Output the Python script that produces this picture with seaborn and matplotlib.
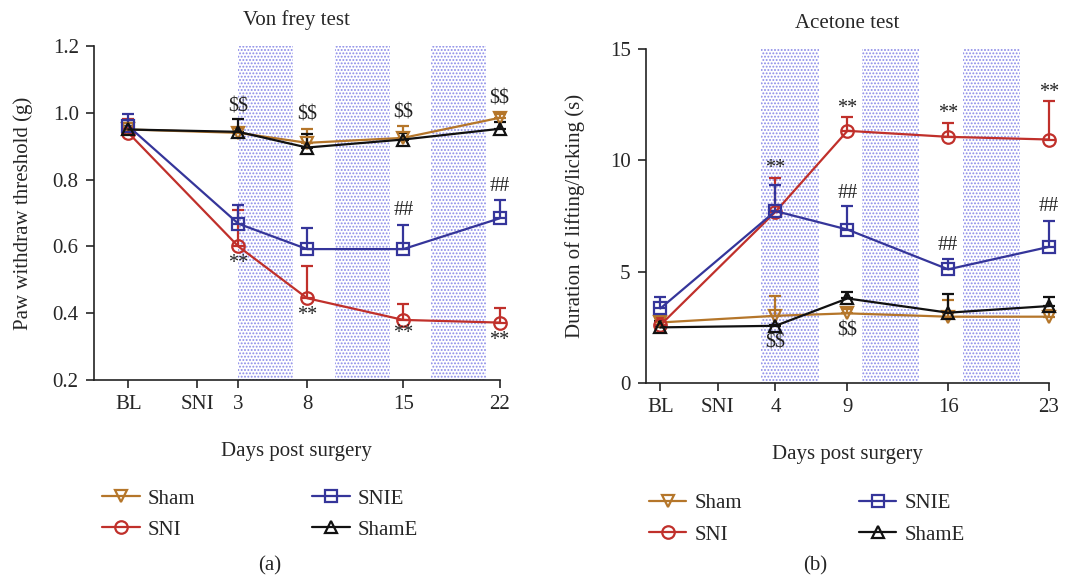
import matplotlib
matplotlib.use("Agg")
import matplotlib.pyplot as plt
import seaborn as sns
import pandas as pd

## DATA ..........................................................................

groups = ["Sham", "SNI", "SNIE", "ShamE"]

# Von frey test
vf_days = [-5, 3, 8, 15, 22]
vf_ticks = [-5, 0, 3, 8, 15, 22]
vf_ticklabels = ["BL", "SNI", "3", "8", "15", "22"]
vf_sham = [0.95, 0.94, 0.91, 0.925, 0.985]
vf_sham_err = [0.02, 0.015, 0.04, 0.035, 0.012]
vf_sni = [0.94, 0.60, 0.445, 0.38, 0.372]
vf_sni_err = [0.04, 0.11, 0.095, 0.048, 0.045]
vf_snie = [0.96, 0.668, 0.592, 0.592, 0.684]
vf_snie_err = [0.036, 0.056, 0.062, 0.072, 0.056]
vf_shame = [0.95, 0.943, 0.896, 0.92, 0.952]
vf_shame_err = [0.02, 0.037, 0.042, 0.02, 0.02]
vf_note_text = ["$$", "$$", "$$", "$$", "**", "**", "**", "**", "##", "##"]
vf_note_x = [3, 8, 15, 22, 3, 8, 15, 22, 15, 22]
vf_note_y = [1.018, 0.993, 0.998, 1.042, 0.549, 0.394, 0.339, 0.319, 0.708, 0.778]

# Acetone test
ac_days = [-4, 4, 9, 16, 23]
ac_ticks = [-4, 0, 4, 9, 16, 23]
ac_ticklabels = ["BL", "SNI", "4", "9", "16", "23"]
ac_sham = [2.71, 3.01, 3.12, 2.97, 2.97]
ac_sham_err = [0.35, 0.9, 0.2, 0.75, 0.3]
ac_sni = [2.59, 7.69, 11.33, 11.06, 10.94]
ac_sni_err = [0.3, 1.54, 0.63, 0.6, 1.74]
ac_snie = [3.34, 7.72, 6.89, 5.10, 6.11]
ac_snie_err = [0.53, 1.17, 1.07, 0.46, 1.17]
ac_shame = [2.49, 2.56, 3.79, 3.15, 3.45]
ac_shame_err = [0.3, 0.05, 0.27, 0.82, 0.42]
ac_note_text = ["**", "**", "**", "**", "##", "##", "##", "$$", "$$"]
ac_note_x = [4, 9, 16, 23, 9, 16, 23, 4, 9]
ac_note_y = [9.64, 12.33, 12.11, 13.05, 8.51, 6.19, 7.91, 1.77, 2.32]

# exercise periods (shaded)
shade_start = [3, 10, 17]
shade_end = [7, 14, 21]

## STYLE ..........................................................................

colors = {"Sham": "#b5762a", "SNI": "#c0302b", "SNIE": "#35359a", "ShamE": "#111111"}
markers = {"Sham": "v", "SNI": "o", "SNIE": "s", "ShamE": "^"}

sns.set_style("ticks")
plt.rcParams["font.family"] = ["Liberation Serif", "DejaVu Serif"]
plt.rcParams["hatch.linewidth"] = 0.9

fig = plt.figure(figsize=(10.73, 5.82), dpi=100)
ax1 = fig.add_axes([0.0876, 0.347, 0.378, 0.574])
ax2 = fig.add_axes([0.602, 0.3424, 0.3756, 0.573])


def draw_panel(ax, days, series, errs, ticks, ticklabels, notes, xlim, ylim, yticks, title, ylabel, ylpad):
    for s0, s1 in zip(shade_start, shade_end):
        ax.axvspan(s0, s1, facecolor="white", hatch=".....", edgecolor="#8a8ae8",
                   linewidth=0, zorder=0)
    for g in groups:
        c = colors[g]
        eb = ax.errorbar(days, series[g], yerr=[[0] * len(days), errs[g]], fmt="none",
                         ecolor=c, elinewidth=1.6, capsize=4.5, capthick=1.6, zorder=2)
        for art in eb.get_children():
            art.set_clip_on(False)
        df = pd.DataFrame({"day": days, "value": series[g]})
        sns.lineplot(data=df, x="day", y="value", ax=ax, color=c, marker=markers[g],
                     markersize=9, markerfacecolor="none", markeredgecolor=c,
                     markeredgewidth=1.6, linewidth=1.6, label=g, zorder=3, clip_on=False)
    for t, x, y in zip(*notes):
        ax.text(x, y, t, ha="center", va="center", fontsize=14.5, color="#222222",
                clip_on=False, parse_math=False)
    ax.set_xlim(*xlim)
    ax.set_ylim(*ylim)
    ax.set_xticks(ticks)
    ax.set_xticklabels(ticklabels)
    ax.set_yticks(yticks)
    ax.tick_params(labelsize=15, length=6, width=1.2, direction="out", pad=5)
    ax.set_title(title, fontsize=15, pad=15)
    ax.set_xlabel("Days post surgery", fontsize=15, labelpad=20)
    ax.set_ylabel(ylabel, fontsize=15, labelpad=ylpad)
    sns.despine(ax=ax)
    for sp in ["left", "bottom"]:
        ax.spines[sp].set_linewidth(1.2)
        ax.spines[sp].set_color("#222222")


draw_panel(ax1, vf_days,
           {"Sham": vf_sham, "SNI": vf_sni, "SNIE": vf_snie, "ShamE": vf_shame},
           {"Sham": vf_sham_err, "SNI": vf_sni_err, "SNIE": vf_snie_err, "ShamE": vf_shame_err},
           vf_ticks, vf_ticklabels, (vf_note_text, vf_note_x, vf_note_y),
           (-7.5, 22), (0.2, 1.2), [0.2, 0.4, 0.6, 0.8, 1.0, 1.2],
           "Von frey test", "Paw withdraw threshold (g)", 14)
ax1.yaxis.set_major_formatter(matplotlib.ticker.FormatStrFormatter("%.1f"))

draw_panel(ax2, ac_days,
           {"Sham": ac_sham, "SNI": ac_sni, "SNIE": ac_snie, "ShamE": ac_shame},
           {"Sham": ac_sham_err, "SNI": ac_sni_err, "SNIE": ac_snie_err, "ShamE": ac_shame_err},
           ac_ticks, ac_ticklabels, (ac_note_text, ac_note_x, ac_note_y),
           (-5, 23), (0, 15), [0, 5, 10, 15],
           "Acetone test", "Duration of lifting/licking (s)", 18)

## LEGENDS ..........................................................................

for ax, anchor in [(ax1, (0.02, -0.326)), (ax2, (0.007, -0.333))]:
    ax.legend(loc="upper left", bbox_to_anchor=anchor, ncol=2, frameon=False, fontsize=15,
              handlelength=1.8, handletextpad=0.4, columnspacing=5.6, labelspacing=0.56,
              borderaxespad=0, borderpad=0)

fig.text(270 / 1073, 1 - 566 / 582, "(a)", ha="center", va="center", fontsize=15)
fig.text(815 / 1073, 1 - 566 / 582, "(b)", ha="center", va="center", fontsize=15)

plt.savefig("out.png", dpi=100)
